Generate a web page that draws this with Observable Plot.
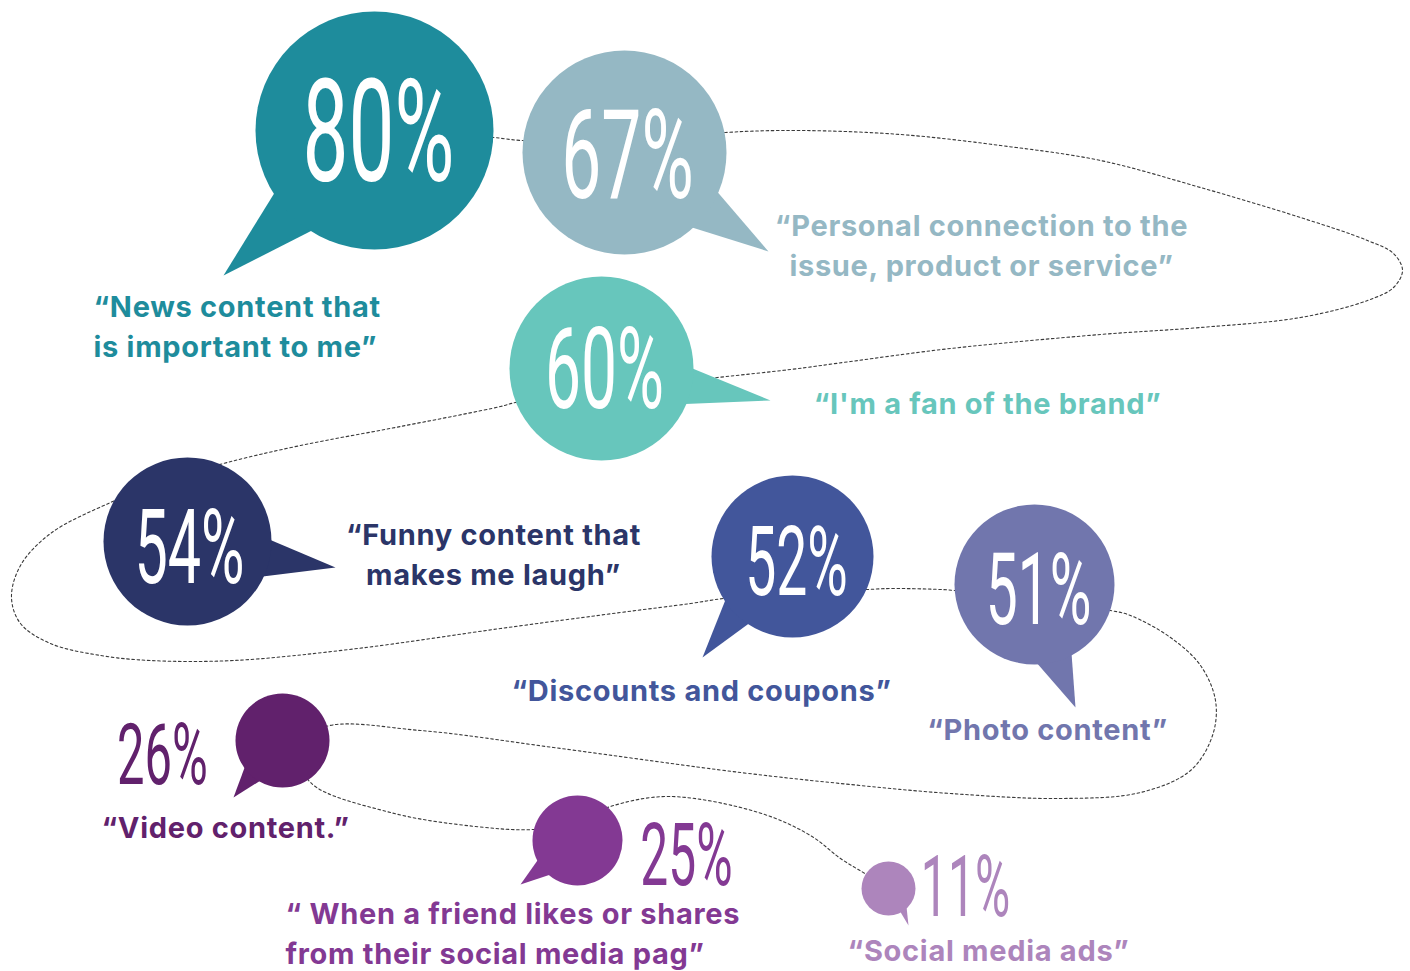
<!DOCTYPE html>
<html><head><meta charset="utf-8">
<script src="https://cdn.jsdelivr.net/npm/d3@7"></script>
<script src="https://cdn.jsdelivr.net/npm/@observablehq/plot@0.6"></script>
<style>html,body{margin:0;padding:0;background:#fff;overflow:hidden}</style>
</head><body><div id="chart"></div>
<script>
// ---- data ----
const categories = [
  "“News content that\nis important to me”",
  "“Personal connection to the\nissue, product or service”",
  "“I'm a fan of the brand”",
  "“Funny content that\nmakes me laugh”",
  "“Discounts and coupons”",
  "“Photo content”",
  "“Video content.”",
  "“ When a friend likes or shares\nfrom their social media pag”",
  "“Social media ads”"
];
const values = [80, 67, 60, 54, 52, 51, 26, 25, 11];

// ---- styles ----
const palette = ["#1E8C9C","#95B8C4","#67C6BC","#2B3568","#42569B","#7176AD","#61216C","#833993","#AD85BC"];
const valueInside = [true,true,true,true,true,true,false,false,false];

// ---- layout (bubble centre/radius, tail angles + tip, value text, label anchor) ----
const layout = [
  {cx:374, cy:130, r:119, a1:148, a2:122, tx:223, ty:275, px:378, py:180, cap:102, lx:93,  ly:324, la:"start"},
  {cx:624, cy:152, r:102, a1:23,  a2:48,  tx:768, ty:251, px:627, py:197, cap:89,  lx:981, ly:243, la:"middle"},
  {cx:601, cy:368, r:92,  a1:0,   a2:23,  tx:770, ty:400, px:604, py:407, cap:80,  lx:987, ly:401, la:"middle"},
  {cx:187, cy:541, r:84,  a1:-1,  a2:25,  tx:335, ty:567, px:189, py:582, cap:74,  lx:493, ly:552, la:"middle"},
  {cx:792, cy:556, r:81,  a1:147, a2:123, tx:702, ty:657, px:796, py:594, cap:69,  lx:701, ly:688, la:"middle"},
  {cx:1034,cy:584, r:80,  a1:88,  a2:62,  tx:1075,ty:707, px:1038,py:623, cap:71,  lx:1047,ly:727, la:"middle"},
  {cx:282, cy:740, r:47,  a1:145, a2:119, tx:233, ty:797, px:162, py:783, cap:61,  lx:225, ly:825, la:"middle"},
  {cx:577, cy:840, r:45,  a1:154, a2:129, tx:520, ty:884, px:686, py:884, cap:62,  lx:285, ly:931, la:"start"},
  {cx:888, cy:888, r:27,  a1:63,  a2:46,  tx:908, ty:925, px:965, py:915, cap:60,  lx:988, ly:948, la:"middle"}
];

// dotted connector path (decorative guide through the bubbles)
const connector = [
  [470,136],[493,137],[521,140],[625,142],[725,132],[800,130],[900,134],[1000,145],[1100,160],[1200,187],
  [1300,217],[1367,240],[1393,253],[1402,270],[1393,287],[1367,300],[1300,317],[1200,327],[1100,334],
  [950,348],[850,361],[790,369],[717,377],[601,390],[515,402],[500,406],[400,426],[300,445],[223,463],
  [160,482],[110,502],[50,533],[20,565],[11,597],[20,623],[50,643],[100,655],[150,660],[233,660],
  [357,648],[500,628],[620,612],[690,603],[723,598],[800,592],[867,589],[890,588],[940,589],[954,590],
  [1034,600],[1110,610],[1130,615],[1170,637],[1200,665],[1215,700],[1212,735],[1190,770],[1140,792],
  [1060,798],[950,793],[850,784],[740,772],[553,747],[420,730],[323,727],[300,752],[310,782],[390,812],
  [475,826],[533,829],[575,822],[610,806],[668,796],[758,812],[810,835],[840,858],[866,874],[888,888]
];

const rad = d => d * Math.PI / 180;
const bubbles = values.map((v, i) => ({
  id: i, value: v, label: categories[i], color: palette[i], inside: valueInside[i], ...layout[i]
}));
const tails = bubbles.flatMap(b => [
  {id: b.id, color: b.color, x: b.cx + (b.r - 1) * Math.cos(rad(b.a1)), y: b.cy + (b.r - 1) * Math.sin(rad(b.a1))},
  {id: b.id, color: b.color, x: b.tx, y: b.ty},
  {id: b.id, color: b.color, x: b.cx + (b.r - 1) * Math.cos(rad(b.a2)), y: b.cy + (b.r - 1) * Math.sin(rad(b.a2))}
]);

const labelStyle = {x: "lx", y: "ly", text: "label", fill: "color", fontFamily: "Inter, 'Open Sans', sans-serif",
  fontWeight: 700, fontSize: 29, lineHeight: 1.36, lineAnchor: "middle"};

const svg = Plot.plot({
  width: 1410, height: 971, margin: 0,
  x: {type: "identity", axis: null},
  y: {type: "identity", axis: null},
  r: {type: "identity"},
  color: {type: "identity"},
  style: {background: "#fff"},
  marks: [
    Plot.line(connector, {x: d => d[0], y: d => d[1], curve: "catmull-rom", stroke: "#3a3a3a", strokeWidth: 1.1, strokeDasharray: "2.6,2.6"}),
    Plot.line(tails, {x: "x", y: "y", z: "id", fill: "color", stroke: "none"}),
    Plot.dot(bubbles, {x: "cx", y: "cy", r: "r", fill: "color", stroke: "none"}),
    Plot.text(bubbles, {x: "px", y: "py", text: d => d.value + "%", fontSize: d => d.cap / 0.711,
      fill: d => d.inside ? "#ffffff" : d.color, textAnchor: "middle", lineAnchor: "bottom",
      fontFamily: "Roboto, sans-serif", fontWeight: 400}),
    Plot.text(bubbles, {...labelStyle, filter: d => d.la === "start", textAnchor: "start"}),
    Plot.text(bubbles, {...labelStyle, filter: d => d.la === "middle", textAnchor: "middle"})
  ]
});

// condense the percentage figures horizontally around their anchor point; space out the labels a touch
d3.select(svg).selectAll("text").each(function() {
  if (!/^\d+%$/.test(this.textContent.trim())) {
    this.style.letterSpacing = "0.7px";
    return;
  }
  const x = +(this.getAttribute("x") || 0), y = +(this.getAttribute("y") || 0);
  const t = this.getAttribute("transform") || "";
  this.setAttribute("x", 0);
  this.setAttribute("y", 0);
  this.setAttribute("transform", `${t} translate(${x},${y}) scale(0.57,1)`);
});
document.getElementById("chart").appendChild(svg);
</script>
</body></html>
